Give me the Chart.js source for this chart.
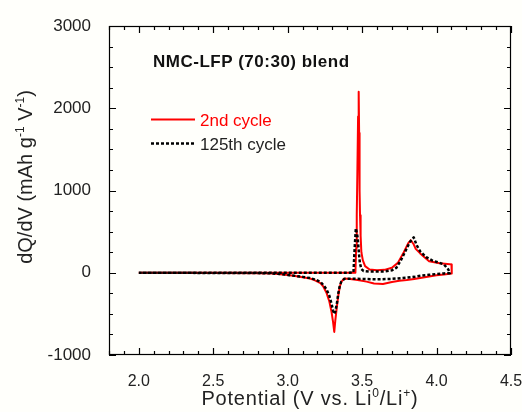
<!DOCTYPE html>
<html>
<head>
<meta charset="utf-8">
<script src="https://cdn.jsdelivr.net/npm/chart.js@4.4.1/dist/chart.umd.min.js"></script>
<style>
  html, body { margin: 0; padding: 0; background: #fffffb; }
  #wrap { width: 522px; height: 412px; }
</style>
</head>
<body>
<div id="wrap"><canvas id="Chart" width="522" height="412"></canvas></div>
<script>
// Data: potential (V) and dQ/dV (mAh g-1 V-1)
// each cycle is one loop: charge 2.0 -> 4.1 V, then discharge back to 2.0 V
const cycle2_V = [
  2.00, 3.00, 3.40, 3.455, 3.460, 3.464, 3.468, 3.473, 3.477, 3.480, 3.483, 3.486, 3.490, 3.495,
  3.505, 3.52, 3.55, 3.60, 3.65, 3.70, 3.74, 3.78, 3.81, 3.827, 3.845, 3.86, 3.89, 3.95, 4.02,
  4.09, 4.10, 4.102,
  4.05, 4.00, 3.95, 3.90, 3.85, 3.80, 3.75, 3.70, 3.64, 3.58, 3.53, 3.47, 3.42, 3.38, 3.36,
  3.35, 3.34, 3.33, 3.32, 3.313, 3.305, 3.295, 3.28, 3.26, 3.24, 3.22, 3.18, 3.15, 3.10,
  3.05, 3.00, 2.95, 2.90, 2.80, 2.50, 2.00
];
const cycle2_Q = [
  0, 0, 0, 0, 300, 700, 1200, 1900, 2200, 1700, 1000, 700, 450, 250,
  150, 80, 40, 30, 35, 60, 120, 250, 360, 395, 350, 290, 235, 140, 115,
  103, 100, -10,
  -22, -30, -45, -60, -75, -88, -98, -112, -137, -130, -108, -88, -75, -70, -110,
  -170, -280, -420, -580, -720, -600, -480, -350, -240, -170, -125, -90, -70, -55,
  -40, -28, -18, -10, -5, -2, 0
];

const cycle125_V = [
  2.00, 3.00, 3.40, 3.442, 3.450, 3.458, 3.470, 3.478, 3.485, 3.495, 3.51, 3.55, 3.60, 3.65,
  3.70, 3.73, 3.76, 3.79, 3.82, 3.847, 3.865, 3.89, 3.93, 3.97, 4.02, 4.05, 4.078, 4.09,
  4.05, 4.00, 3.95, 3.90, 3.85, 3.80, 3.70, 3.60, 3.50, 3.42, 3.38, 3.36, 3.35, 3.34,
  3.33, 3.32, 3.312, 3.305, 3.295, 3.28, 3.26, 3.24, 3.22, 3.18, 3.15, 3.10, 3.05, 3.00,
  2.95, 2.90, 2.80, 2.50, 2.00
];
const cycle125_Q = [
  0, 0, 0, 5, 300, 540, 430, 250, 120, 45, 22, 15, 15, 15,
  30, 60, 150, 260, 370, 430, 340, 260, 190, 150, 120, 100, 42, -5,
  -8, -15, -25, -35, -50, -60, -75, -80, -75, -72, -75, -110, -160, -250,
  -380, -470, -500, -460, -380, -280, -200, -150, -110, -80, -65, -50, -38, -26,
  -16, -8, -4, -2, 0
];

const seriesLabels = ['2nd cycle', '125th cycle'];
const xTicks = [2.0, 2.5, 3.0, 3.5, 4.0, 4.5];
const yTicks = [-1000, 0, 1000, 2000, 3000];
const xMinorStep = 0.1;
const yMinorStep = 250;

const FONT = "'Liberation Sans', Arial, sans-serif";
const TEXT = '#222';

function toPoints(xs, ys) {
  return xs.map((x, i) => ({ x: x, y: ys[i] }));
}

// draws text with superscript runs, centred on (0,0) of current transform
function drawRich(ctx, parts, size) {
  const supSize = Math.round(size * 0.62);
  let total = 0;
  parts.forEach(p => {
    ctx.font = (p.sup ? supSize : size) + 'px ' + FONT;
    p.w = ctx.measureText(p.t).width;
    total += p.w;
  });
  let x = -total / 2;
  ctx.textAlign = 'left';
  ctx.textBaseline = 'alphabetic';
  parts.forEach(p => {
    ctx.font = (p.sup ? supSize : size) + 'px ' + FONT;
    ctx.fillText(p.t, x, p.sup ? -size * 0.38 : 0);
    x += p.w;
  });
}

const framePlugin = {
  id: 'frame',
  afterDraw(chart) {
    const ctx = chart.ctx;
    const a = chart.chartArea;
    const xs = chart.scales.x, ys = chart.scales.y;
    ctx.save();
    ctx.strokeStyle = '#000';
    ctx.lineWidth = 1.2;
    ctx.strokeRect(a.left + 0.5, a.top + 0.5, a.right - a.left - 1, a.bottom - a.top - 1);

    // inward ticks on all four sides
    ctx.beginPath();
    for (let v = xs.min; v <= xs.max + 1e-6; v += xMinorStep) {
      const major = xTicks.some(t => Math.abs(t - v) < 1e-6);
      const len = major ? 7 : 4;
      const px = Math.round(xs.getPixelForValue(v)) + 0.5;
      ctx.moveTo(px, a.bottom); ctx.lineTo(px, a.bottom - len);
      ctx.moveTo(px, a.top); ctx.lineTo(px, a.top + len);
    }
    for (let v = ys.min; v <= ys.max + 1e-6; v += yMinorStep) {
      const major = yTicks.includes(v);
      const len = major ? 7 : 4;
      const py = Math.round(ys.getPixelForValue(v)) + 0.5;
      ctx.moveTo(a.left, py); ctx.lineTo(a.left + len, py);
      ctx.moveTo(a.right, py); ctx.lineTo(a.right - len, py);
    }
    ctx.stroke();

    // panel title
    ctx.fillStyle = '#111';
    ctx.font = 'bold 17px ' + FONT;
    ctx.textAlign = 'left';
    ctx.textBaseline = 'alphabetic';
    ctx.letterSpacing = '0.5px';
    ctx.fillText('NMC-LFP (70:30) blend', 153, 67);
    ctx.letterSpacing = '0px';

    // legend
    const ds = chart.data.datasets;
    const rows = [119.5, 143.5];
    ds.forEach((d, i) => {
      ctx.beginPath();
      ctx.strokeStyle = d.borderColor;
      ctx.lineWidth = d.borderWidth;
      ctx.setLineDash(d.borderDash || []);
      ctx.moveTo(151, rows[i]); ctx.lineTo(195, rows[i]);
      ctx.stroke();
      ctx.setLineDash([]);
      ctx.fillStyle = i === 0 ? '#ff0000' : TEXT;
      ctx.font = '17px ' + FONT;
      ctx.fillText(seriesLabels[i], 200, rows[i] + 6);
    });

    // axis titles
    ctx.fillStyle = TEXT;
    ctx.save();
    ctx.translate((a.left + a.right) / 2, 405);
    ctx.letterSpacing = '0.8px';
    drawRich(ctx, [{ t: 'Potential (V vs. Li' }, { t: '0', sup: true }, { t: '/Li' }, { t: '+', sup: true }, { t: ')' }], 20);
    ctx.restore();
    ctx.save();
    ctx.translate(32, 177);
    ctx.rotate(-Math.PI / 2);
    drawRich(ctx, [{ t: 'dQ/dV (mAh g' }, { t: '-1', sup: true }, { t: ' V' }, { t: '-1', sup: true }, { t: ')' }], 20);
    ctx.restore();
    ctx.restore();
  }
};

const data = {
  datasets: [
    {
      label: seriesLabels[0],
      data: toPoints(cycle2_V, cycle2_Q),
      borderColor: '#ff0000',
      borderWidth: 2,
      order: 1
    },
    {
      label: seriesLabels[1],
      data: toPoints(cycle125_V, cycle125_Q),
      borderColor: '#000000',
      borderWidth: 2.5,
      borderDash: [3, 2],
      order: 0
    }
  ]
};

const config = {
  type: 'scatter',
  data: data,
  options: {
    responsive: false,
    animation: false,
    showLine: true,
    elements: {
      point: { radius: 0, hoverRadius: 0 },
      line: { tension: 0, fill: false, borderJoinStyle: 'round' }
    },
    layout: { padding: { top: 26, right: 11, left: 0, bottom: 0 } },
    scales: {
      x: {
        type: 'linear',
        min: 1.8,
        max: 4.5,
        grid: { display: false },
        border: { display: false },
        afterBuildTicks: s => { s.ticks = xTicks.map(v => ({ value: v })); },
        afterFit: s => { s.height = 57; s.paddingLeft = 0; s.paddingRight = 0; },
        ticks: {
          padding: 9,
          color: TEXT,
          font: { family: FONT, size: 16 },
          callback: v => v.toFixed(1),
          maxRotation: 0
        }
      },
      y: {
        type: 'linear',
        min: -1000,
        max: 3000,
        grid: { display: false },
        border: { display: false },
        afterBuildTicks: s => { s.ticks = yTicks.map(v => ({ value: v })); },
        afterFit: s => { s.width = 109; s.paddingTop = 0; s.paddingBottom = 0; },
        ticks: {
          padding: 10,
          color: TEXT,
          font: { family: FONT, size: 17 },
          callback: v => String(v)
        }
      }
    },
    plugins: {
      legend: { display: false },
      tooltip: { enabled: false },
      title: { display: false }
    }
  },
  plugins: [framePlugin]
};

window.addEventListener('load', () => {
  const ctx = document.getElementById('Chart');
  new Chart(ctx, config);
});
</script>
</body>
</html>
